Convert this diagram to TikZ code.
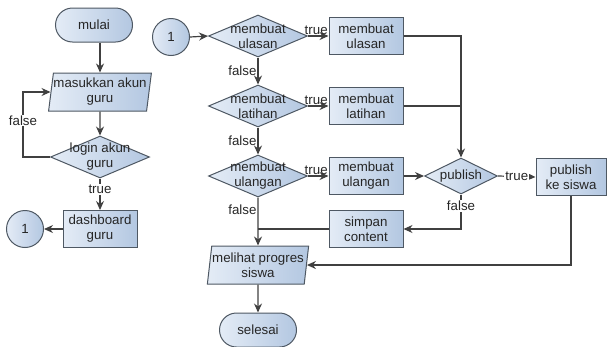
\documentclass[tikz,border=0pt]{standalone}
\usepackage{fontspec}
\setmainfont{Liberation Sans}
\usetikzlibrary{positioning,shapes.geometric,arrows.meta}
\definecolor{boxlight}{HTML}{E4ECF6}
\definecolor{boxdark}{HTML}{B3C7E1}
\definecolor{edgegray}{HTML}{4E5863}

\begin{document}
\begin{tikzpicture}[x=1pt, y=-1pt,
    base/.style={draw=edgegray, line width=1pt, left color=boxlight, right color=boxdark, font=\fontsize{13.3}{15}\selectfont, align=center, text=black!85},
    terminal/.style={base, rounded corners=17pt, minimum width=77pt, minimum height=34pt},
    process/.style={base, rectangle, minimum width=74pt, minimum height=37pt, inner sep=1pt},
    decision/.style={base, diamond, inner sep=-14pt, minimum width=99pt, minimum height=42pt},
    inout/.style={base, trapezium, trapezium left angle=80, trapezium right angle=100, trapezium stretches=true, minimum width=102pt, minimum height=38pt, inner sep=0pt},
    conn/.style={base, circle, minimum size=37pt, inner sep=0pt},
    flow/.style={draw=black!75, line width=1.2pt, -{Stealth[length=9pt,width=8pt]}},
    plain/.style={draw=black!75, line width=1.2pt},
    lbl/.style={fill=white, font=\fontsize{13.3}{15}\selectfont, inner sep=1pt, text=black!85}
]
    \useasboundingbox (0,0) rectangle (607,346);

    % --- Login guru ---
    \node[terminal] (mulai) at (94,25) {mulai};
    \node[inout] (masuk) at (100,92) {masukkan akun\\guru};
    \node[decision] (login) at (100,157) {login akun\\guru};
    \node[process] (dash) at (100,229) {dashboard\\guru};
    \node[conn] (c1) at (25,229) {1};

    \draw[flow] (mulai.south -| masuk.north) -- (masuk.north);
    \draw[flow] (masuk) -- (login);
    \draw[flow] (login.west) -- ++(-27,0) |- node[lbl, pos=0.28]{false} (masuk.west);
    \draw[flow] (login.south) -- node[lbl, pos=0.35]{true} (dash.north);
    \draw[flow] (dash.west) -- (c1.east);

    % --- Menu guru ---
    \node[conn] (c2) at (171,37) {1};
    \foreach \n/\y in {ulasan/36, latihan/106, ulangan/176} {
        \node[decision] (q\n) at (258,\y) {membuat\\\n};
        \node[process] (b\n) at (366,\y) {membuat\\\n};
        \draw[flow] (q\n.east) -- node[lbl, above, fill=none, pos=0.4]{true} (b\n.west);
    }
    \draw[flow] (c2.east) -- (qulasan.west);
    \draw[flow] (qulasan.south) -- node[lbl, left, fill=none]{false} (qlatihan.north);
    \draw[flow] (qlatihan.south) -- node[lbl, left, fill=none]{false} (qulangan.north);

    % --- Publish ---
    \node[decision, minimum width=73pt, minimum height=36pt] (pub) at (461,176) {publish};
    \node[process, minimum width=70pt] (kirim) at (571,177) {publish\\ke siswa};
    \node[process] (simpan) at (366,229) {simpan\\content};

    \draw[flow] (bulasan.east) -| (pub.north);
    \draw[plain] (blatihan.east) -- (blatihan.east -| pub.north);
    \draw[flow] (bulangan) -- (pub);
    \draw[flow] (pub.east) -- node[lbl]{true} (kirim.west);
    \draw[flow] (pub.south) |- node[lbl, pos=0.17]{false} (simpan.east);

    % --- Akhir ---
    \node[inout] (lihat) at (258,265) {melihat progres\\siswa};
    \node[terminal] (selesai) at (258,330) {selesai};

    \draw[flow] (qulangan.south) -- node[lbl, left, fill=none, pos=0.26]{false} (lihat.north);
    \draw[plain] (simpan.west) -- (simpan.west -| qulangan.south);
    \draw[flow] (kirim.south) |- (lihat.east);
    \draw[flow] (lihat.south) -- (selesai.north);

\end{tikzpicture}
\end{document}
